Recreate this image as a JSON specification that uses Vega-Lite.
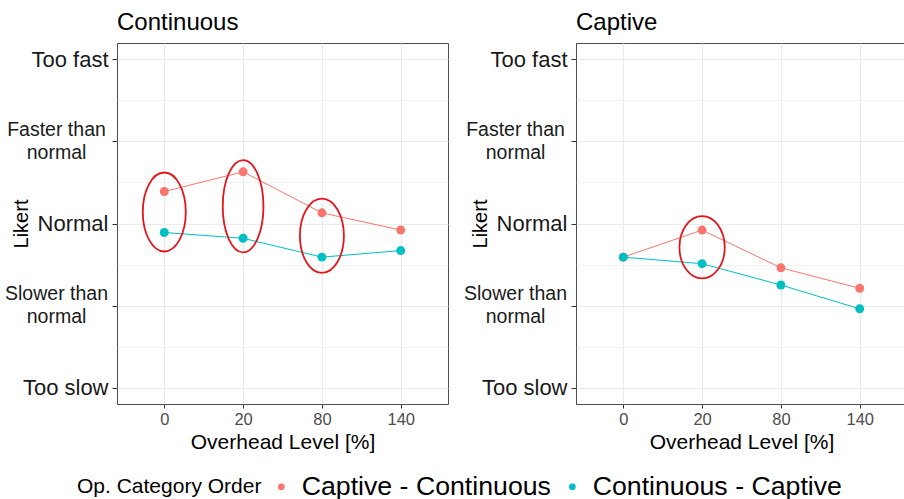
{
  "$schema": "https://vega.github.io/schema/vega-lite/v6.json",
  "background": "white",
  "padding": {"left": 4, "top": 10, "right": 0, "bottom": 0},
  "spacing": 14,
  "datasets": {
    "pts": [
      {"panel": "Continuous", "overhead": 0, "likert": 3.39, "order": "Captive - Continuous"},
      {"panel": "Continuous", "overhead": 20, "likert": 3.63, "order": "Captive - Continuous"},
      {"panel": "Continuous", "overhead": 80, "likert": 3.13, "order": "Captive - Continuous"},
      {"panel": "Continuous", "overhead": 140, "likert": 2.92, "order": "Captive - Continuous"},
      {"panel": "Continuous", "overhead": 0, "likert": 2.89, "order": "Continuous - Captive"},
      {"panel": "Continuous", "overhead": 20, "likert": 2.82, "order": "Continuous - Captive"},
      {"panel": "Continuous", "overhead": 80, "likert": 2.59, "order": "Continuous - Captive"},
      {"panel": "Continuous", "overhead": 140, "likert": 2.67, "order": "Continuous - Captive"},
      {"panel": "Captive", "overhead": 0, "likert": 2.59, "order": "Captive - Continuous"},
      {"panel": "Captive", "overhead": 20, "likert": 2.92, "order": "Captive - Continuous"},
      {"panel": "Captive", "overhead": 80, "likert": 2.46, "order": "Captive - Continuous"},
      {"panel": "Captive", "overhead": 140, "likert": 2.21, "order": "Captive - Continuous"},
      {"panel": "Captive", "overhead": 0, "likert": 2.59, "order": "Continuous - Captive"},
      {"panel": "Captive", "overhead": 20, "likert": 2.51, "order": "Continuous - Captive"},
      {"panel": "Captive", "overhead": 80, "likert": 2.25, "order": "Continuous - Captive"},
      {"panel": "Captive", "overhead": 140, "likert": 1.96, "order": "Continuous - Captive"}
    ],
    "ell": [
      {"panel": "Continuous", "overhead": 0, "likert": 3.14, "id": "E1"},
      {"panel": "Continuous", "overhead": 20, "likert": 3.21, "id": "E2"},
      {"panel": "Continuous", "overhead": 80, "likert": 2.85, "id": "E3"},
      {"panel": "Captive", "overhead": 20, "likert": 2.71, "id": "E4"}
    ]
  },
  "hconcat": [
    {
      "title": {"text": "Continuous"},
      "width": 331,
      "height": 361,
      "layer": [
        {
          "data": {"name": "pts"},
          "transform": [{"filter": "datum.panel == 'Continuous'"}],
          "mark": {"type": "line", "strokeWidth": 1},
          "encoding": {
            "x": {"field": "overhead", "type": "ordinal", "scale": {"type": "point", "padding": 0.6}, "axis": {"title": "Overhead Level [%]"}},
            "y": {"field": "likert", "type": "quantitative", "scale": {"domain": [0.8, 5.2], "nice": false, "zero": false}, "axis": {"title": "Likert"}},
            "color": {"field": "order", "type": "nominal", "scale": {"domain": ["Captive - Continuous", "Continuous - Captive"], "range": ["#F8766D", "#00BFC4"]},
              "legend": {"orient": "none", "direction": "horizontal", "legendX": -40, "legendY": 430, "title": "Op. Category Order", "titleOrient": "left"}}
          }
        },
        {
          "data": {"name": "pts"},
          "transform": [{"filter": "datum.panel == 'Continuous'"}],
          "mark": {"type": "point", "filled": true, "opacity": 1, "size": 80},
          "encoding": {
            "x": {"field": "overhead", "type": "ordinal"},
            "y": {"field": "likert", "type": "quantitative"},
            "color": {"field": "order", "type": "nominal"}
          }
        },
        {
          "data": {"name": "ell"},
          "transform": [{"filter": "datum.panel == 'Continuous'"}],
          "mark": {"type": "point", "filled": false, "opacity": 1, "stroke": "#e3171b", "strokeWidth": 1.8, "size": 10000},
          "encoding": {
            "x": {"field": "overhead", "type": "ordinal"},
            "y": {"field": "likert", "type": "quantitative"},
            "shape": {"field": "id", "type": "nominal", "legend": null, "scale": {"domain": ["E1", "E2", "E3", "E4"], "range": [
              "M0.43,0C0.43,0.4363,0.2375,0.79,0,0.79C-0.2375,0.79,-0.43,0.4363,-0.43,0C-0.43,-0.4363,-0.2375,-0.79,0,-0.79C0.2375,-0.79,0.43,-0.4363,0.43,0Z",
              "M0.407,0C0.407,0.5098,0.2248,0.923,0,0.923C-0.2248,0.923,-0.407,0.5098,-0.407,0C-0.407,-0.5098,-0.2248,-0.923,0,-0.923C0.2248,-0.923,0.407,-0.5098,0.407,0Z",
              "M0.44,0C0.44,0.4104,0.243,0.743,0,0.743C-0.243,0.743,-0.44,0.4104,-0.44,0C-0.44,-0.4104,-0.243,-0.743,0,-0.743C0.243,-0.743,0.44,-0.4104,0.44,0Z",
              "M0.453,0C0.453,0.3441,0.2502,0.623,0,0.623C-0.2502,0.623,-0.453,0.3441,-0.453,0C-0.453,-0.3441,-0.2502,-0.623,0,-0.623C0.2502,-0.623,0.453,-0.3441,0.453,0Z"
            ]}}
          }
        }
      ]
    },
    {
      "title": {"text": "Captive"},
      "width": 331,
      "height": 361,
      "layer": [
        {
          "data": {"name": "pts"},
          "transform": [{"filter": "datum.panel == 'Captive'"}],
          "mark": {"type": "line", "strokeWidth": 1},
          "encoding": {
            "x": {"field": "overhead", "type": "ordinal", "scale": {"type": "point", "padding": 0.6}, "axis": {"title": "Overhead Level [%]"}},
            "y": {"field": "likert", "type": "quantitative", "scale": {"domain": [0.8, 5.2], "nice": false, "zero": false}, "axis": {"title": "Likert"}},
            "color": {"field": "order", "type": "nominal", "scale": {"domain": ["Captive - Continuous", "Continuous - Captive"], "range": ["#F8766D", "#00BFC4"]},
              "legend": {"orient": "none", "direction": "horizontal", "legendX": -40, "legendY": 430, "title": "Op. Category Order", "titleOrient": "left"}}
          }
        },
        {
          "data": {"name": "pts"},
          "transform": [{"filter": "datum.panel == 'Captive'"}],
          "mark": {"type": "point", "filled": true, "opacity": 1, "size": 80},
          "encoding": {
            "x": {"field": "overhead", "type": "ordinal"},
            "y": {"field": "likert", "type": "quantitative"},
            "color": {"field": "order", "type": "nominal"}
          }
        },
        {
          "data": {"name": "ell"},
          "transform": [{"filter": "datum.panel == 'Captive'"}],
          "mark": {"type": "point", "filled": false, "opacity": 1, "stroke": "#e3171b", "strokeWidth": 1.8, "size": 10000},
          "encoding": {
            "x": {"field": "overhead", "type": "ordinal"},
            "y": {"field": "likert", "type": "quantitative"},
            "shape": {"field": "id", "type": "nominal", "legend": null}
          }
        }
      ]
    }
  ],
  "config": {
    "font": "Liberation Sans",
    "view": {"stroke": "#4d4d4d", "strokeWidth": 1},
    "title": {"anchor": "start", "frame": "group", "fontSize": 24, "fontWeight": "normal", "color": "#000000", "offset": 8},
    "axisX": {
      "labelAngle": 0, "labelFontSize": 16.5, "labelColor": "#4d4d4d", "labelPadding": 3,
      "tickColor": "#333333", "tickSize": 4, "domain": false,
      "grid": true, "gridColor": "#ebebeb", "gridWidth": 1.2,
      "titleFontSize": 21, "titleFontWeight": "normal", "titleColor": "#000000", "titlePadding": 4
    },
    "axisY": {
      "values": [1, 1.5, 2, 2.5, 3, 3.5, 4, 4.5, 5],
      "labelExpr": "datum.value == 5 ? 'Too fast' : datum.value == 4 ? ['Faster than', 'normal'] : datum.value == 3 ? 'Normal' : datum.value == 2 ? ['Slower than', 'normal'] : datum.value == 1 ? 'Too slow' : ''",
      "labelFontSize": {"condition": {"test": "datum.value == 4 || datum.value == 2", "value": 19.5}, "value": 22},
      "labelAlign": {"condition": {"test": "datum.value == 4 || datum.value == 2", "value": "center"}, "value": "right"},
      "labelPadding": {"condition": {"test": "datum.value == 4 || datum.value == 2", "value": 56}, "value": 4},
      "labelOffset": {"condition": {"test": "datum.value == 4 || datum.value == 2", "value": -12}, "value": 0},
      "labelLineHeight": 23,
      "labelBaseline": "middle",
      "labelColor": "#1a1a1a",
      "labelOverlap": false,
      "labelBound": false,
      "tickColor": "#333333", "tickSize": 5,
      "tickOpacity": {"condition": {"test": "datum.value % 1 != 0", "value": 0}, "value": 1},
      "domain": false,
      "grid": true, "gridColor": "#ebebeb",
      "gridWidth": {"condition": {"test": "datum.value % 1 != 0", "value": 0.6}, "value": 1.2},
      "titleFontSize": 20, "titleFontWeight": "normal", "titleColor": "#000000",
      "titleX": -86, "titleY": 180.5, "titleAngle": -90
    },
    "legend": {
      "labelFontSize": 26.7, "titleFontSize": 21, "titleFontWeight": "normal",
      "labelColor": "#000000", "titleColor": "#000000", "labelLimit": 400, "titleLimit": 400,
      "symbolType": "circle", "symbolSize": 45, "symbolStrokeWidth": 0,
      "labelOffset": 7, "columnPadding": 8, "titlePadding": 6, "padding": 0
    }
  }
}
